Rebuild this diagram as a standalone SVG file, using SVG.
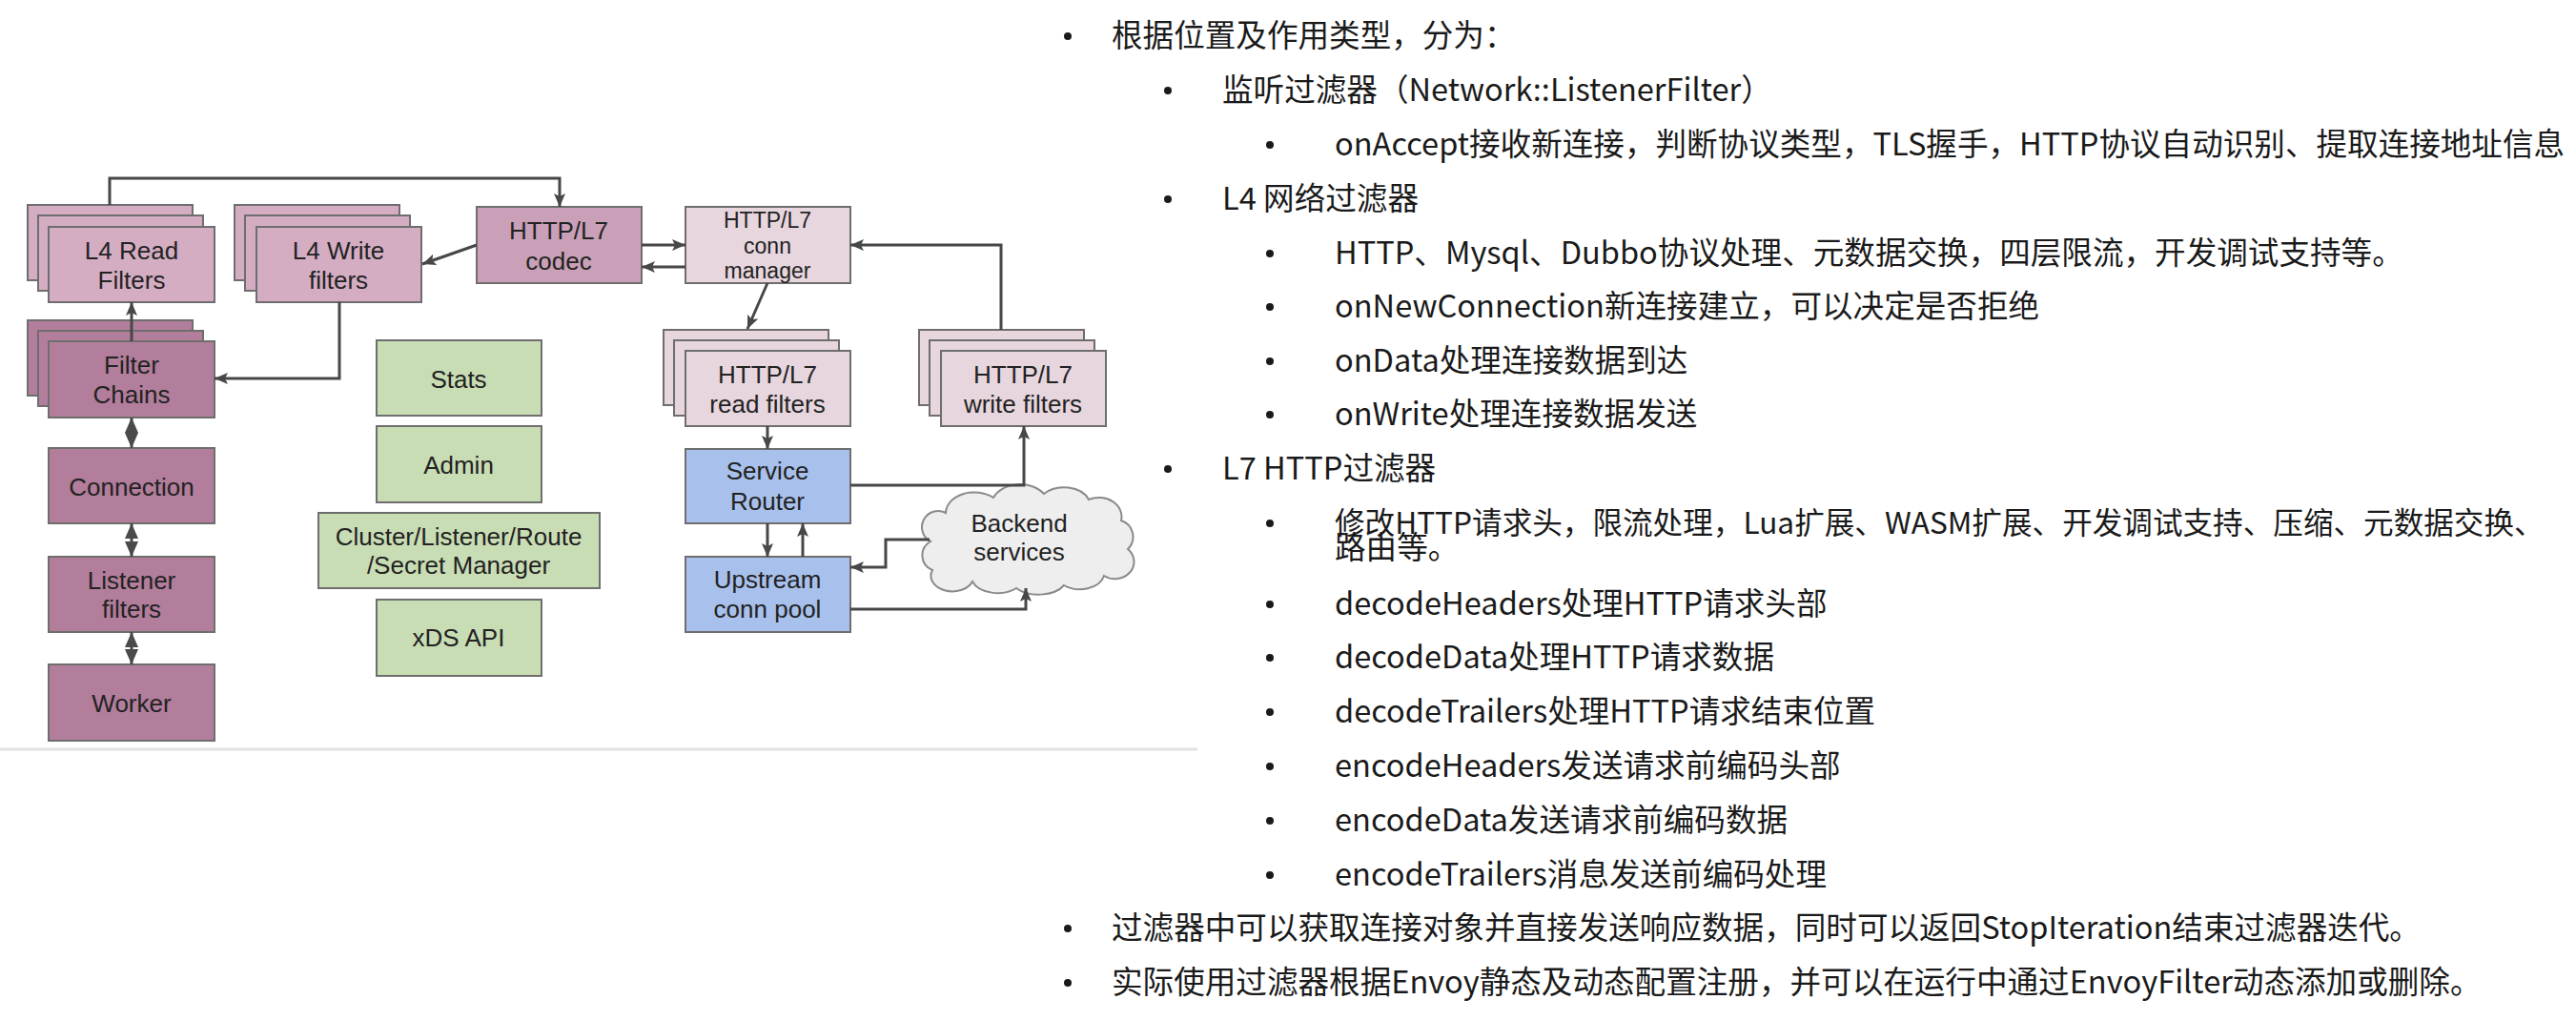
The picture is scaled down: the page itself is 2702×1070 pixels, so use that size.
<svg xmlns="http://www.w3.org/2000/svg" width="2702" height="1070" viewBox="0 0 2702 1070">
<defs>
<style>
.bx{stroke:#6e6e6e;stroke-width:2}
.l4{fill:#d4adc3}
.cd{fill:#c9a0b7}
.dk{fill:#b27e9c}
.lt{fill:#e7d6de}
.gr{fill:#c9ddb5}
.bl{fill:#a8c1ec}
.t{font-family:"Liberation Sans",Arial,sans-serif;font-size:26px;fill:#222;text-anchor:middle}
.ts{font-family:"Liberation Sans",Arial,sans-serif;font-size:23px;fill:#222;text-anchor:middle}
.c{fill:none;stroke:#474747;stroke-width:3}
.z{font-family:"Noto Sans CJK SC","Noto Sans",sans-serif;font-size:32.6px;fill:#1a1a1a}
.b{fill:#1a1a1a}
</style>
<marker id="a" viewBox="0 0 14 12" refX="14" refY="6" markerWidth="14" markerHeight="12" markerUnits="userSpaceOnUse" orient="auto">
<path d="M0,0 L14,6 L0,12 L3,6 z" fill="#474747"/>
</marker>
<marker id="d" viewBox="0 0 16 14" refX="16" refY="7" markerWidth="16" markerHeight="14" markerUnits="userSpaceOnUse" orient="auto-start-reverse">
<path d="M0,0 L16,7 L0,14 z" fill="#4a4a4a"/>
</marker>
</defs>
<rect width="2702" height="1070" fill="#ffffff"/>

<g id="l4read">
<rect class="bx l4" x="29" y="215" width="173" height="79"/>
<rect class="bx l4" x="40" y="226" width="173" height="79"/>
<rect class="bx l4" x="51" y="238" width="174" height="79"/>
<text class="t" x="138" y="272">L4 Read</text>
<text class="t" x="138" y="303">Filters</text>
</g>
<g id="l4write">
<rect class="bx l4" x="246" y="215" width="173" height="79"/>
<rect class="bx l4" x="257" y="226" width="173" height="79"/>
<rect class="bx l4" x="269" y="238" width="173" height="79"/>
<text class="t" x="355" y="272">L4 Write</text>
<text class="t" x="355" y="303">filters</text>
</g>
<g id="codec">
<rect class="bx cd" x="500" y="217" width="173" height="80"/>
<text class="t" x="586" y="251">HTTP/L7</text>
<text class="t" x="586" y="283">codec</text>
</g>
<g id="connmgr">
<rect class="bx lt" x="719" y="217" width="173" height="80"/>
<text class="ts" x="805" y="239">HTTP/L7</text>
<text class="ts" x="805" y="266">conn</text>
<text class="ts" x="805" y="292">manager</text>
</g>
<g id="filterchains">
<rect class="bx dk" x="29" y="336" width="173" height="79"/>
<rect class="bx dk" x="40" y="347" width="173" height="79"/>
<rect class="bx dk" x="51" y="358" width="174" height="80"/>
<text class="t" x="138" y="392">Filter</text>
<text class="t" x="138" y="423">Chains</text>
</g>
<g id="connection">
<rect class="bx dk" x="51" y="470" width="174" height="79"/>
<text class="t" x="138" y="520">Connection</text>
</g>
<g id="listenerfilters">
<rect class="bx dk" x="51" y="584" width="174" height="79"/>
<text class="t" x="138" y="618">Listener</text>
<text class="t" x="138" y="648">filters</text>
</g>
<g id="worker">
<rect class="bx dk" x="51" y="697" width="174" height="80"/>
<text class="t" x="138" y="747">Worker</text>
</g>
<g id="stats">
<rect class="bx gr" x="395" y="357" width="173" height="79"/>
<text class="t" x="481" y="407">Stats</text>
</g>
<g id="admin">
<rect class="bx gr" x="395" y="447" width="173" height="80"/>
<text class="t" x="481" y="497">Admin</text>
</g>
<g id="cluster">
<rect class="bx gr" x="334" y="538" width="295" height="79"/>
<text class="t" x="481" y="572">Cluster/Listener/Route</text>
<text class="t" x="481" y="602">/Secret Manager</text>
</g>
<g id="xds">
<rect class="bx gr" x="395" y="629" width="173" height="80"/>
<text class="t" x="481" y="678">xDS API</text>
</g>
<g id="httpread">
<rect class="bx lt" x="696" y="346" width="173" height="79"/>
<rect class="bx lt" x="707" y="357" width="173" height="79"/>
<rect class="bx lt" x="719" y="368" width="173" height="79"/>
<text class="t" x="805" y="402">HTTP/L7</text>
<text class="t" x="805" y="433">read filters</text>
</g>
<g id="httpwrite">
<rect class="bx lt" x="964" y="346" width="173" height="79"/>
<rect class="bx lt" x="975" y="357" width="173" height="79"/>
<rect class="bx lt" x="987" y="368" width="173" height="79"/>
<text class="t" x="1073" y="402">HTTP/L7</text>
<text class="t" x="1073" y="433">write filters</text>
</g>
<g id="router">
<rect class="bx bl" x="719" y="471" width="173" height="78"/>
<text class="t" x="805" y="503">Service</text>
<text class="t" x="805" y="535">Router</text>
</g>
<g id="upstream">
<rect class="bx bl" x="719" y="584" width="173" height="79"/>
<text class="t" x="805" y="617">Upstream</text>
<text class="t" x="805" y="648">conn pool</text>
</g>
<g id="backend">
<path d="M978,598 A18,17 0 0 1 976,568 A16,16 0 0 1 992,538 A30,22 0 0 1 1042,522 A30,22 0 0 1 1095,518 A28,20 0 0 1 1142,524 A24,20 0 0 1 1176,546 A18,18 0 0 1 1183,576 A20,18 0 0 1 1158,604 A26,18 0 0 1 1116,614 A30,18 0 0 1 1066,617 A28,18 0 0 1 1020,610 A22,16 0 0 1 978,598 Z" fill="#eeeeee" stroke="#8a8a8a" stroke-width="2"/>
<text class="t" x="1069" y="558">Backend</text>
<text class="t" x="1069" y="588">services</text>
</g>

<g id="connectors">
<path class="c" d="M115,215 V187 H587 V217" marker-end="url(#a)"/>
<path class="c" d="M500,257 L443,277" marker-end="url(#a)"/>
<path class="c" d="M138,358 V317" marker-end="url(#a)"/>
<path class="c" d="M356,317 V397 H225" marker-end="url(#a)"/>
<path class="c" d="M673,257 H719" marker-end="url(#a)"/>
<path class="c" d="M719,280 H673" marker-end="url(#a)"/>
<path class="c" d="M805,297 L784,345" marker-end="url(#a)"/>
<path class="c" d="M1050,346 V257 H892" marker-end="url(#a)"/>
<path class="c" d="M805,447 V471" marker-end="url(#a)"/>
<path class="c" d="M892,509 H1074 V447" marker-end="url(#a)"/>
<path class="c" d="M805,549 V584" marker-end="url(#a)"/>
<path class="c" d="M842,584 V549" marker-end="url(#a)"/>
<path class="c" d="M892,639 H1076 V617" marker-end="url(#a)"/>
<path class="c" d="M975,566 H929 V595 H892" marker-end="url(#a)"/>
<path class="c" d="M138,438 V470" marker-start="url(#d)" marker-end="url(#d)"/>
<path class="c" d="M138,549 V584" marker-start="url(#d)" marker-end="url(#d)"/>
<path class="c" d="M138,663 V697" marker-start="url(#d)" marker-end="url(#d)"/>
</g>

<line x1="0" y1="786" x2="1256" y2="786" stroke="#e2e2e2" stroke-width="3"/>

<g id="bullets">
<circle class="b" cx="1120" cy="38" r="4"/>
<circle class="b" cx="1225" cy="95" r="4"/>
<circle class="b" cx="1332" cy="152" r="4"/>
<circle class="b" cx="1225" cy="209" r="4"/>
<circle class="b" cx="1332" cy="266" r="4"/>
<circle class="b" cx="1332" cy="322" r="4"/>
<circle class="b" cx="1332" cy="379" r="4"/>
<circle class="b" cx="1332" cy="435" r="4"/>
<circle class="b" cx="1225" cy="492" r="4"/>
<circle class="b" cx="1332" cy="549" r="4"/>
<circle class="b" cx="1332" cy="634" r="4"/>
<circle class="b" cx="1332" cy="690" r="4"/>
<circle class="b" cx="1332" cy="747" r="4"/>
<circle class="b" cx="1332" cy="804" r="4"/>
<circle class="b" cx="1332" cy="861" r="4"/>
<circle class="b" cx="1332" cy="918" r="4"/>
<circle class="b" cx="1120" cy="974" r="4"/>
<circle class="b" cx="1120" cy="1031" r="4"/>
</g>
<g id="text">
<text class="z" x="1166" y="49">根据位置及作用类型，分为：</text>
<text class="z" x="1282" y="106">监听过滤器（Network::ListenerFilter）</text>
<text class="z" x="1400" y="163">onAccept接收新连接，判断协议类型，TLS握手，HTTP协议自动识别、提取连接地址信息</text>
<text class="z" x="1282" y="220">L4 网络过滤器</text>
<text class="z" x="1400" y="277">HTTP、Mysql、Dubbo协议处理、元数据交换，四层限流，开发调试支持等。</text>
<text class="z" x="1400" y="333">onNewConnection新连接建立，可以决定是否拒绝</text>
<text class="z" x="1400" y="390">onData处理连接数据到达</text>
<text class="z" x="1400" y="446">onWrite处理连接数据发送</text>
<text class="z" x="1282" y="503">L7 HTTP过滤器</text>
<text class="z" x="1400" y="560" style="font-size:31.6px">修改HTTP请求头，限流处理，Lua扩展、WASM扩展、开发调试支持、压缩、元数据交换、</text>
<text class="z" x="1400" y="586">路由等。</text>
<text class="z" x="1400" y="645">decodeHeaders处理HTTP请求头部</text>
<text class="z" x="1400" y="701">decodeData处理HTTP请求数据</text>
<text class="z" x="1400" y="758">decodeTrailers处理HTTP请求结束位置</text>
<text class="z" x="1400" y="815">encodeHeaders发送请求前编码头部</text>
<text class="z" x="1400" y="872">encodeData发送请求前编码数据</text>
<text class="z" x="1400" y="929">encodeTrailers消息发送前编码处理</text>
<text class="z" x="1166" y="985">过滤器中可以获取连接对象并直接发送响应数据，同时可以返回StopIteration结束过滤器迭代。</text>
<text class="z" x="1166" y="1042">实际使用过滤器根据Envoy静态及动态配置注册，并可以在运行中通过EnvoyFilter动态添加或删除。</text>
</g>
</svg>
